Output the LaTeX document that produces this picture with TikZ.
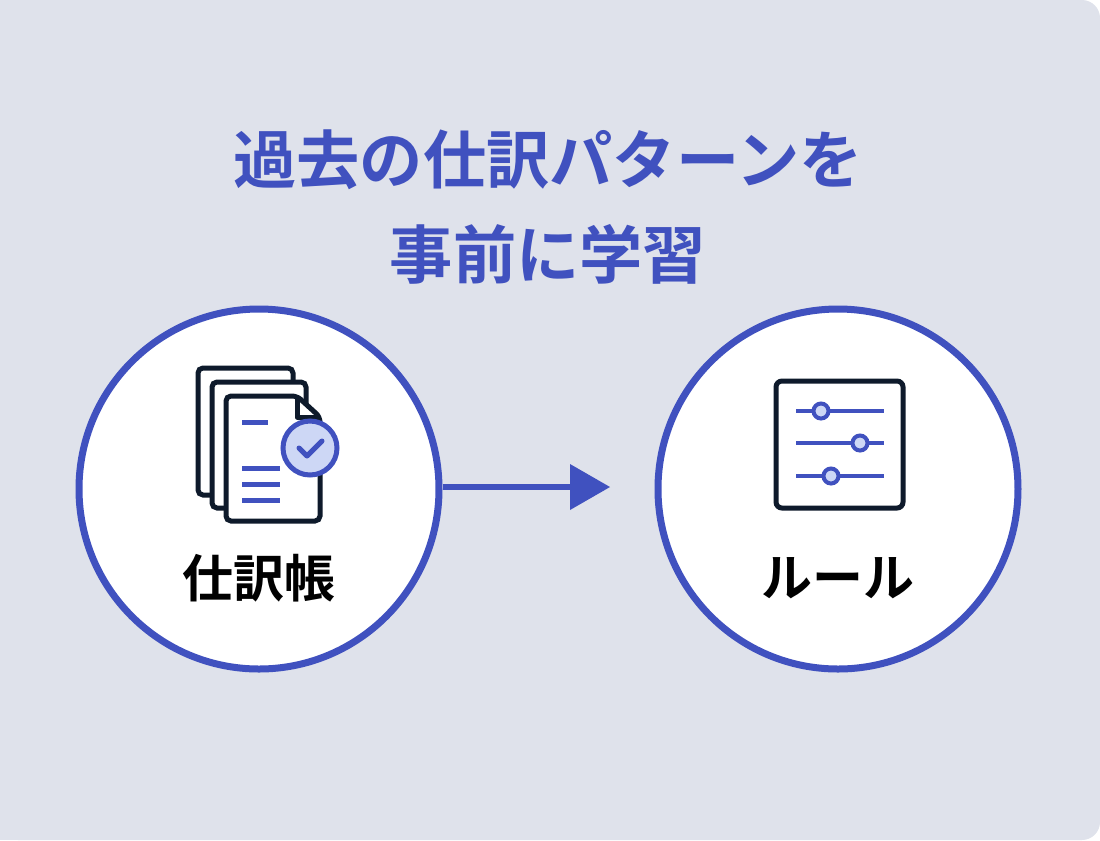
\documentclass[tikz,border=0pt]{standalone}
\usepackage{fontspec}
\newfontfamily\jpfont{Noto Sans CJK JP Bold}
\definecolor{bgcol}{HTML}{DFE2EB}
\definecolor{blu}{HTML}{4051BF}
\definecolor{ink}{HTML}{0E1A2B}
\definecolor{pale}{HTML}{CDD7F5}
\tikzset{
	ring/.style={circle, draw=blu, line width=7\pxu, fill=white, minimum size=360\pxu, inner sep=0pt},
	page/.style={draw=ink, line width=5\pxu, fill=white, rounded corners=5\pxu},
	bar/.style={draw=blu, line width=5\pxu},
	knob/.style={circle, draw=blu, line width=4\pxu, fill=pale, minimum size=15\pxu, inner sep=0pt},
}
\newlength{\pxu}
\setlength{\pxu}{0.02cm}
\begin{document}
\begin{tikzpicture}[x=0.02cm,y=-0.02cm]
	%background
		\fill[bgcol, rounded corners=18\pxu] (0,0) -- (1100,0) -- (1100,840) -- (0,840) -- cycle;
		\fill[bgcol] (0,0) rectangle (40,840);
	%title
		\node[text=blu, font=\jpfont\fontsize{36pt}{54pt}\selectfont, align=center] (title) at (548,207) {過去の仕訳パターンを\\事前に学習};
	%circles
		\node[ring] (ledger) at (259,489) {};
		\node[ring] (rules) at (838,489) {};
		\node[font=\jpfont\fontsize{29pt}{30pt}\selectfont] (ledgerlbl) at (259,578) {仕訳帳};
		\node[font=\jpfont\fontsize{29pt}{30pt}\selectfont] (ruleslbl) at (838,578) {ルール};
	%arrow
		\coordinate (tip) at (610,487);
		\draw[blu, line width=6\pxu] (ledger.east |- tip) -- (575,487);
		\fill[blu] (tip) -- (570,464) -- (570,510) -- cycle;
	%document icon
		\draw[page] (198,368) rectangle (293,495);
		\draw[page] (212,382) rectangle (306,508);
		\draw[page] (226,396) -- (297,396) -- (320,417) -- (320,521) -- (226,521) -- cycle;
		\draw[ink, line width=5\pxu, line join=round] (297,396) -- (297,417) -- (320,417);
		\draw[bar] (242,422) -- (268,422);
		\foreach \y in {468,484,500}
			\draw[bar] (242,\y) -- (280,\y);
		\node[circle, draw=blu, line width=5\pxu, fill=pale, minimum size=54\pxu, inner sep=0pt] (check) at (310,448) {};
		\draw[blu, line width=5\pxu, line cap=round, line join=round] (299,448) -- (307,456) -- (322,441);
	%slider icon
		\draw[ink, line width=5\pxu, fill=white, rounded corners=6\pxu] (776,381) rectangle (903,508);
		\foreach \y/\k in {411/821,443/860,476/831}{
			\draw[bar, line width=4\pxu] (796,\y) -- (884,\y);
			\node[knob] at (\k,\y) {};
		}
\end{tikzpicture}
\end{document}
